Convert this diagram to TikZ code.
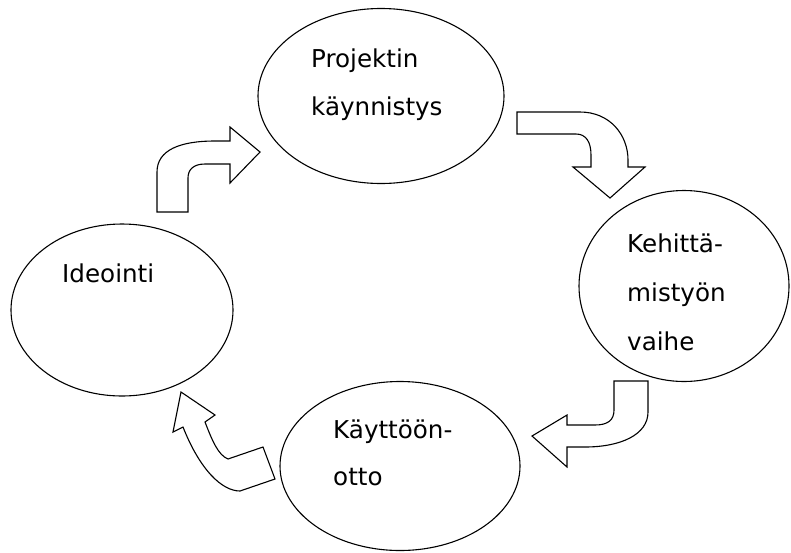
\documentclass[tikz,border=0pt]{standalone}
\usepackage{fontspec}
\setmainfont{DejaVu Sans}
\usetikzlibrary{shapes.geometric}
\begin{document}
\begin{tikzpicture}[x=1pt,y=-1pt,
  phase/.style={ellipse,draw,line width=1.1pt,inner sep=0pt,outer sep=0pt},
  lbl/.style={anchor=base west,inner sep=0pt,font=\fontsize{24.6}{28}\selectfont},
  blockarrow/.style={draw,line width=1.1pt,fill=white,line join=miter}]
\useasboundingbox (0,0) rectangle (791,552);
% phases
\node[phase,minimum width=246pt,minimum height=175pt] (proj) at (381,96) {};
\node[phase,minimum width=210pt,minimum height=191pt] (kehi) at (684,286) {};
\node[phase,minimum width=222pt,minimum height=172pt] (idea) at (122,310) {};
\node[phase,minimum width=240pt,minimum height=169pt] (kayt) at (400,466) {};
% labels
\node[lbl] (t1) at (311,67) {Projektin};
\node[lbl] (t2) at (311,115) {käynnistys};
\node[lbl] (t3) at (627,252) {Kehittä-};
\node[lbl] (t4) at (627,301) {mistyön};
\node[lbl] (t5) at (627,350) {vaihe};
\node[lbl] (t6) at (62,282) {Ideointi};
\node[lbl] (t7) at (333,438) {Käyttöön-};
\node[lbl] (t8) at (333,485) {otto};
% block arrows
\draw[blockarrow] (157,212) -- (157,172) .. controls (157,150) and (180,141) .. (215,141)
  -- (230,141) -- (230,127) -- (260,152) -- (230,183) -- (230,164) -- (205,164)
  .. controls (193,164) and (188,170) .. (188,178) -- (188,212) -- cycle;
\draw[blockarrow] (517,112) -- (580,112) .. controls (610,112) and (628,135) .. (628,160)
  -- (628,167) -- (645,167) -- (610,198) -- (573,167) -- (591,167) -- (591,155)
  .. controls (591,142) and (586,134) .. (576,134) -- (517,134) -- cycle;
\draw[blockarrow] (614,381) -- (648,381) -- (648,412) .. controls (648,435) and (620,447) .. (585,447)
  -- (567,447) -- (567,467) -- (532,436) -- (567,415) -- (567,425) -- (595,425)
  .. controls (608,425) and (614,420) .. (614,410) -- cycle;
\draw[blockarrow] (181,392) -- (215,415) -- (205,422) .. controls (212,440) and (218,455) .. (228,459)
  -- (263,447) -- (275,479) -- (240,491) .. controls (222,491) and (200,470) .. (183,427)
  -- (173,432) -- cycle;
\end{tikzpicture}
\end{document}
